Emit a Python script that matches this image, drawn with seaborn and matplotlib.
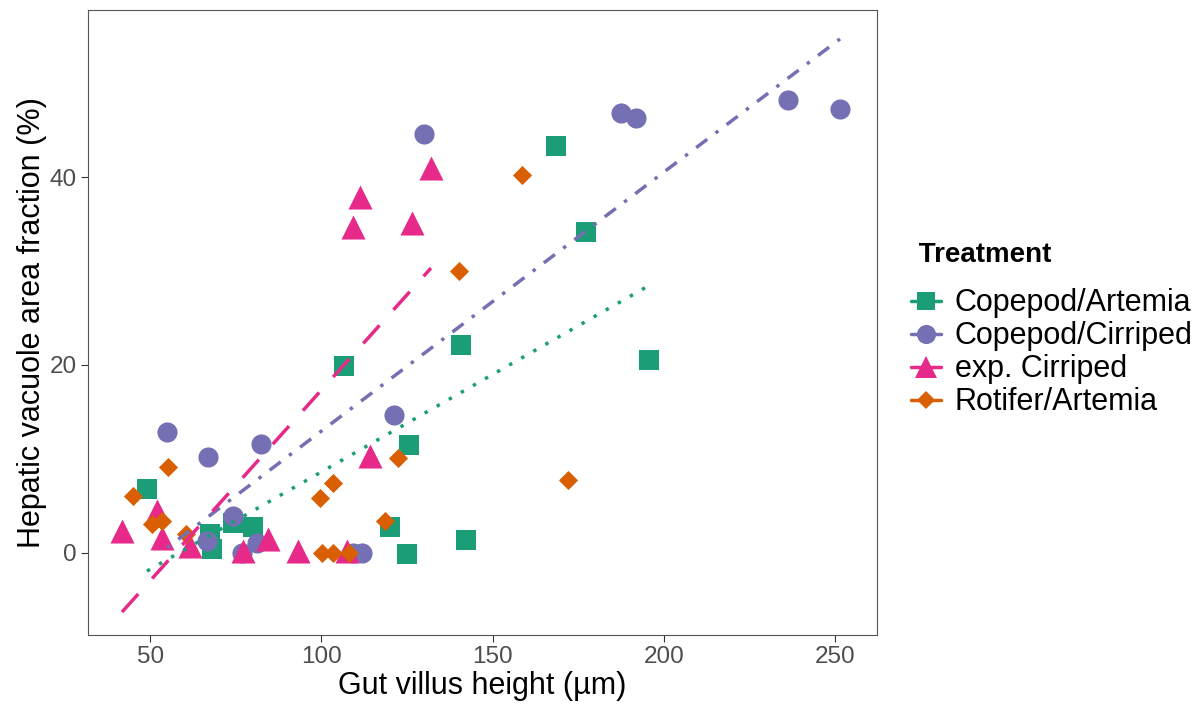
import numpy as np
import pandas as pd
import matplotlib.pyplot as plt
import seaborn as sns
from matplotlib.lines import Line2D

sns.set_theme(style="white")
plt.rcParams["font.family"] = ["Liberation Sans", "DejaVu Sans"]

# Treatments and their styling (Dark2 palette, ggplot-like shapes)
TREATMENTS = ["Copepod/Artemia", "Copepod/Cirriped", "exp. Cirriped", "Rotifer/Artemia"]
COLORS = ["#1B9E77", "#7570B3", "#E7298A", "#D95F02"]
MARKERS = ["s", "o", "^", "D"]
MARKER_SIZES = [190, 210, 300, 95]
DASHES = [(1, 3), (1, 3, 4, 3), (7, 6), None]

# Data
copepod_artemia_x = [49.1, 67.5, 68.1, 74.2, 80.1, 106.6, 120.1, 125.0, 125.6, 140.8, 142.2, 168.5, 177.3, 195.7]
copepod_artemia_y = [6.8, 2.0, 0.4, 3.2, 2.7, 19.9, 2.7, -0.1, 11.5, 22.1, 1.4, 43.3, 34.2, 20.5]

copepod_cirriped_x = [55.0, 66.9, 74.2, 66.6, 76.9, 81.2, 82.4, 109.3, 111.9, 121.2, 130.0, 187.5, 191.9, 236.2, 251.4]
copepod_cirriped_y = [12.9, 10.2, 3.9, 1.3, 0.0, 1.1, 11.6, 0.0, 0.0, 14.7, 44.6, 46.8, 46.3, 48.2, 47.3]

exp_cirriped_x = [41.8, 52.0, 53.5, 61.7, 77.1, 84.4, 93.2, 107.5, 114.2, 109.3, 111.3, 126.5, 132.0]
exp_cirriped_y = [2.3, 4.5, 1.6, 0.7, 0.2, 1.5, 0.2, 0.2, 10.3, 34.7, 37.9, 35.1, 41.0]

rotifer_artemia_x = [45.0, 50.6, 53.5, 55.3, 60.5, 99.6, 103.4, 100.2, 103.4, 108.1, 118.6, 122.4, 172.0, 140.2, 158.6]
rotifer_artemia_y = [6.1, 3.1, 3.4, 9.1, 2.0, 5.8, 7.4, 0.0, 0.0, 0.0, 3.4, 10.1, 7.8, 30.0, 40.2]

frames = []
for name, xs, ys in zip(TREATMENTS,
                        [copepod_artemia_x, copepod_cirriped_x, exp_cirriped_x, rotifer_artemia_x],
                        [copepod_artemia_y, copepod_cirriped_y, exp_cirriped_y, rotifer_artemia_y]):
    frames.append(pd.DataFrame({"villus": xs, "vacuole": ys, "Treatment": name}))
df = pd.concat(frames, ignore_index=True)

fig = plt.figure(figsize=(12.03, 7.04), dpi=100)
ax = fig.add_axes([0.0732, 0.098, 0.6558, 0.8878])

# points
for name, color, marker, size in zip(TREATMENTS, COLORS, MARKERS, MARKER_SIZES):
    sub = df[df["Treatment"] == name]
    sns.scatterplot(data=sub, x="villus", y="vacuole", color=color, marker=marker,
                    s=size, linewidth=0, ax=ax, zorder=2, legend=False)

# linear fits (only three treatments have a fitted line)
for name, color, dashes in zip(TREATMENTS, COLORS, DASHES):
    if dashes is None:
        continue
    sub = df[df["Treatment"] == name]
    sns.regplot(data=sub, x="villus", y="vacuole", scatter=False, ci=None, ax=ax,
                line_kws={"color": color, "lw": 2.5, "dashes": dashes,
                          "dash_capstyle": "butt", "zorder": 3})

ax.set_xlim(31.9, 262.2)
ax.set_ylim(-8.75, 57.8)
ax.set_xticks([50, 100, 150, 200, 250])
ax.set_yticks([0, 20, 40])
ax.set_xlabel("Gut villus height (µm)", fontsize=22, color="black", labelpad=2)
ax.set_ylabel("Hepatic vacuole area fraction (%)", fontsize=22, color="black", labelpad=2)
ax.tick_params(axis="both", which="both", direction="out", length=5, width=0.8,
               colors="#333333", labelsize=17.5, labelcolor="#4D4D4D", pad=3)
ax.tick_params(bottom=True, left=True)
for spine in ax.spines.values():
    spine.set_color("#555555")
    spine.set_linewidth(0.8)
ax.grid(False)

# legend with point + line keys
handles = []
for name, color, marker, size, dashes in zip(TREATMENTS, COLORS, MARKERS, MARKER_SIZES, DASHES):
    h = Line2D([], [], color=color, marker=marker, markersize=np.sqrt(size) * 0.95,
               markeredgewidth=0, lw=2.5, linestyle="-")
    handles.append(h)
leg = fig.legend(handles=handles, labels=TREATMENTS, title=" Treatment",
                 loc="upper left", bbox_to_anchor=(0.757, 0.656), frameon=False,
                 fontsize=22, title_fontsize=20, handlelength=1.0, handletextpad=0.44,
                 labelspacing=0.1, borderaxespad=0, borderpad=0, labelcolor="black")
leg.get_title().set_fontweight("bold")
leg.get_title().set_color("black")
leg._legend_box.align = "left"
leg._legend_box.sep = 14.5

fig.savefig("out.png", dpi=100)
